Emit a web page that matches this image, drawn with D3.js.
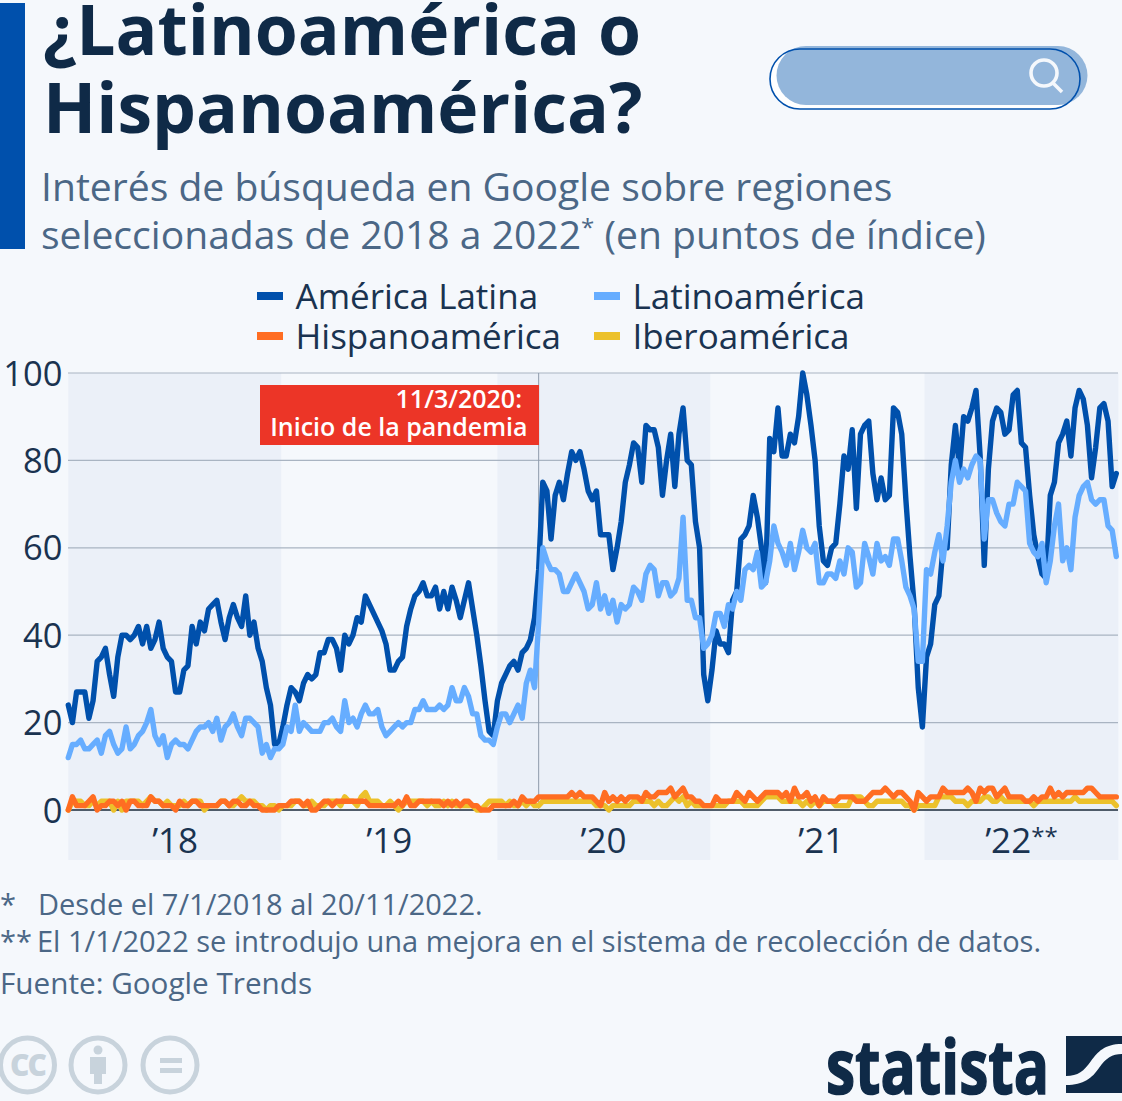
<!DOCTYPE html>
<html><head><meta charset="utf-8">
<script src="https://cdn.jsdelivr.net/npm/d3@7/dist/d3.min.js"></script>
<style>html,body{margin:0;padding:0;background:#f5f8fc;overflow:hidden}svg{display:block}text{font-family:"Open Sans",sans-serif}</style>
</head><body><svg id="c" width="1122" height="1101"></svg>
<script>
const americaLatina=[
24,20,27,27,27,21,25,34,35,37,
31,26,35,40,40,39,40,42,38,42,
37,39,43,37,35,34,27,27,32,33,
42,38,43,41,46,47,48,43,39,44,
47,44,42,49,40,43,37,34,28,24,
15,15,19,24,28,27,25,29,31,30,
31,36,36,39,39,37,32,40,38,40,
44,43,49,47,45,43,41,38,32,32,
34,35,42,46,49,50,52,49,49,51,
46,50,46,51,48,44,48,52,46,40,
33,25,18,17,25,29,31,33,34,32,
36,37,39,44,55,75,73,62,72,75,
71,77,82,80,82,78,73,71,73,63,
63,63,55,60,66,75,79,84,83,75,
88,87,87,83,72,80,86,74,86,92,
80,79,66,60,31,25,32,41,38,38,
36,48,50,62,63,65,72,67,60,52,
85,82,92,81,81,86,84,90,100,95,
88,80,65,57,56,60,61,70,81,78,
87,69,86,88,89,77,71,76,71,72,
92,91,86,71,58,47,28,19,35,38,
47,49,60,60,79,88,78,90,89,92,
96,81,56,78,89,92,91,86,87,95,
96,84,83,72,63,58,54,53,72,75,
84,86,89,81,92,96,94,88,76,83,
92,93,89,74,77];
const latinoamerica=[
12,15,15,16,14,14,15,16,13,17,
18,15,13,14,19,14,15,17,18,20,
23,17,15,17,12,15,16,15,15,14,
16,18,19,19,20,18,21,16,19,20,
22,19,17,21,21,20,19,13,15,12,
14,14,15,19,18,24,18,20,19,18,
18,18,20,20,21,19,18,25,20,21,
19,22,24,22,22,23,19,17,18,19,
20,19,20,20,23,23,25,23,23,23,
24,23,24,28,25,25,28,26,22,22,
17,16,16,15,19,22,22,20,22,24,
21,29,32,28,43,60,57,55,55,54,
50,50,52,54,52,50,46,47,52,46,
49,45,48,43,47,46,47,51,50,48,
54,56,55,49,52,52,49,50,53,67,
48,48,44,44,37,38,40,45,45,42,
47,46,50,48,55,56,55,59,51,52,
57,65,61,59,56,61,55,59,64,60,
59,61,52,52,54,54,53,57,54,60,
59,51,52,61,58,54,61,57,58,56,
62,62,57,51,49,46,34,34,55,54,
59,63,57,65,75,80,75,78,76,79,
81,80,62,71,71,68,66,65,70,70,
75,74,73,61,59,58,61,52,57,65,
70,57,60,55,67,72,74,75,71,70,
71,71,65,64,58];
const hispanoamerica=[
0,3,1,1,1,2,3,0,1,1,
2,2,1,2,0,2,2,1,1,1,
3,2,2,1,1,1,0,2,1,1,
2,2,1,1,1,1,1,2,2,1,
2,2,1,1,2,1,1,0,0,0,
0,1,1,1,2,2,2,1,2,0,
0,1,2,2,1,2,2,2,2,2,
2,2,2,1,1,1,1,1,1,1,
2,1,3,1,1,2,2,2,2,2,
2,1,2,1,2,1,2,2,1,1,
0,0,0,1,1,1,1,1,2,1,
3,2,2,2,3,3,3,3,3,3,
3,3,4,3,4,3,3,3,2,1,
4,2,3,2,3,2,3,3,3,2,
4,3,3,4,4,4,5,3,4,5,
3,3,2,2,1,1,1,3,2,2,
2,2,4,3,2,4,3,2,3,4,
4,4,4,3,4,2,5,3,3,4,
2,3,1,3,2,2,2,3,3,3,
3,2,2,2,3,4,4,4,5,4,
3,4,4,3,2,0,4,3,2,3,
3,3,5,4,4,4,4,4,5,4,
2,5,4,5,5,3,4,5,3,3,
3,3,2,2,3,2,3,3,5,3,
4,3,4,4,4,4,4,5,5,4,
3,3,3,3,3];
const iberoamerica=[
0,2,2,2,1,1,2,1,2,2,
2,0,2,0,2,2,2,2,1,2,
3,2,2,1,2,1,1,1,2,1,
2,2,2,0,1,1,1,2,2,1,
1,2,3,2,2,2,1,1,0,1,
1,0,1,1,1,2,2,1,1,2,
1,1,1,2,2,2,1,3,2,2,
1,3,4,2,2,2,1,1,2,1,
0,1,2,2,2,2,2,1,2,1,
1,2,1,2,1,1,1,1,1,0,
0,1,2,2,2,2,1,2,1,1,
2,1,2,1,1,2,2,2,2,2,
2,2,2,2,2,2,2,2,1,1,
1,0,1,1,1,1,1,2,2,2,
2,2,1,2,1,1,2,3,2,3,
1,2,1,1,1,1,1,1,1,1,
2,2,2,2,1,1,1,1,2,3,
3,3,3,2,2,2,2,2,1,2,
1,2,1,2,2,2,1,1,1,1,
3,3,3,2,1,1,2,2,2,2,
2,2,2,1,1,0,1,1,1,1,
1,3,3,3,3,2,2,2,1,2,
2,2,3,3,2,2,3,2,2,2,
2,2,2,2,1,2,2,2,2,2,
2,2,2,2,3,2,2,2,2,2,
2,2,2,2,1];
const yearLabels=["’18","’19","’20","’21","’22"];
const yearSuffix=["","","","","**"];
const yearEdges=[0,51.6,104,155.6,207.5,254.5];
const yearTickWeeks=[25.9,77.8,129.7,182.5,231];
const yTicks=[0,20,40,60,80,100];
const pandemicWeek=114;
const legendNames=["América Latina","Latinoamérica","Hispanoamérica","Iberoamérica"];
const colors={"América Latina":"#0050ac","Latinoamérica":"#66adff","Hispanoamérica":"#ff6d22","Iberoamérica":"#ecc12b"};
const drawOrder=[["Iberoamérica",iberoamerica],["Hispanoamérica",hispanoamerica],["América Latina",americaLatina],["Latinoamérica",latinoamerica]];

const navy="#0f2a47",muted="#4b6786",ink="#1a3350";
const svg=d3.select("#c");
svg.append("rect").attr("width",1122).attr("height",1101).attr("fill","#f5f8fc");
const x=d3.scaleLinear().domain([0,254]).range([68.3,1116.3]);
const y=d3.scaleLinear().domain([0,100]).range([810,373]);

// header
svg.append("rect").attr("x",0).attr("y",3).attr("width",25).attr("height",246).attr("fill","#0050ac");
const T=(s,px,py,size,fill,weight,anchor)=>svg.append("text").text(s).attr("x",px).attr("y",py).attr("font-size",size).attr("fill",fill).attr("font-weight",weight||400).attr("text-anchor",anchor||"start");
T("¿Latinoamérica o",43,55,69.6,navy,700);
T("Hispanoamérica?",43,133,69.6,navy,700);
T("Interés de búsqueda en Google sobre regiones",41,201,39.1,muted);
const sub=T("seleccionadas de 2018 a 2022",41,249,39.1,muted);
sub.append("tspan").text("*").attr("font-size",24).attr("dy",-13);
sub.append("tspan").text(" (en puntos de índice)").attr("dy",13);

// search pill
svg.append("rect").attr("x",770).attr("y",49).attr("width",310).attr("height",60).attr("rx",30).attr("fill","#fff");
svg.append("rect").attr("x",776.5).attr("y",46).attr("width",311).attr("height",59).attr("rx",29.5).attr("fill","#93b6db");
svg.append("rect").attr("x",770).attr("y",49).attr("width",310).attr("height",60).attr("rx",30).attr("fill","none").attr("stroke","#0050ac").attr("stroke-width",1.6);
svg.append("circle").attr("cx",1044).attr("cy",73).attr("r",13).attr("fill","none").attr("stroke","#f5f8fc").attr("stroke-width",3.6);
svg.append("path").attr("d","M1053 83L1062 92").attr("stroke","#f5f8fc").attr("stroke-width",3.6);

// legend
const lx=[257,594],ly=[296,336];
legendNames.forEach((n,i)=>{
  const c=i%2,r=Math.floor(i/2);
  svg.append("rect").attr("x",lx[c]).attr("y",ly[r]-4).attr("width",26).attr("height",8).attr("fill",colors[n]);
  T(n,lx[c]+38.5,ly[r]+13,35,ink);
});

// bands
yearLabels.forEach((l,i)=>{
  if(i%2==0) svg.append("rect").attr("x",x(yearEdges[i])).attr("y",373).attr("width",x(yearEdges[i+1])-x(yearEdges[i])).attr("height",487).attr("fill","#ebf0f8");
});
// grid
yTicks.forEach(t=>{
  svg.append("line").attr("x1",68).attr("x2",1118).attr("y1",y(t)).attr("y2",y(t)).attr("stroke",t==0?"#1a2a3a":"#a9b4c2").attr("stroke-width",t==0?1.4:1.2);
  T(t,62.5,y(t)+12.5,34.5,ink,400,"end");
});
// tick labels
yearLabels.forEach((l,i)=>{
  const t=T(l,x(yearTickWeeks[i]),853,35,ink,400,"middle");
  if(yearSuffix[i]) t.append("tspan").text(yearSuffix[i]).attr("font-size",24).attr("dy",-8);
});
// pandemic line
svg.append("line").attr("x1",x(pandemicWeek)).attr("x2",x(pandemicWeek)).attr("y1",373).attr("y2",810).attr("stroke","#8f9bab").attr("stroke-width",1);

// series
const line=d3.line().x((d,i)=>x(i)).y(d=>y(d)).curve(d3.curveLinear);
drawOrder.forEach(([n,v])=>{
  svg.append("path").attr("d",line(v)).attr("fill","none").attr("stroke",colors[n]).attr("stroke-width",5.4).attr("stroke-linejoin","round").attr("stroke-linecap","round");
});

// annotation
svg.append("rect").attr("x",260).attr("y",385).attr("width",279).attr("height",60).attr("fill","#ec3527");
T("11/3/2020:",522,408,25,"#fff",600,"end");
T("Inicio de la pandemia",527.5,436,25,"#fff",600,"end");

// footnotes
T("*",0,915,29,muted);
T("Desde el 7/1/2018 al 20/11/2022.",38,915,29,muted);
T("**",0,952,29,muted);
T("El 1/1/2022 se introdujo una mejora en el sistema de recolección de datos.",37,952,29,muted);
T("Fuente: Google Trends",0,994,29.7,muted);

// cc icons
const cg="#c8d3dc";
[27.5,98,170].forEach(cx=>svg.append("circle").attr("cx",cx).attr("cy",1065).attr("r",27).attr("fill","none").attr("stroke",cg).attr("stroke-width",5));
T("CC",27.5,1076,30,cg,800,"middle").attr("letter-spacing",-2);
svg.append("circle").attr("cx",98).attr("cy",1050).attr("r",4.5).attr("fill",cg);
svg.append("path").attr("d","M90 1057H106V1074H102V1084H94V1074H90Z").attr("fill",cg);
svg.append("rect").attr("x",160).attr("y",1058).attr("width",22).attr("height",5).attr("fill",cg);
svg.append("rect").attr("x",160).attr("y",1068).attr("width",22).attr("height",5).attr("fill",cg);

// statista logo
T("statista",826,1093.5,76,navy,700).attr("font-family","'Liberation Sans Narrow','Liberation Sans',sans-serif").attr("textLength",223).attr("lengthAdjust","spacingAndGlyphs").attr("stroke",navy).attr("stroke-width",1.6);
svg.append("path").attr("d","M1066 1036H1122V1044C1104 1044 1098 1052 1091 1061C1084 1071 1078 1076 1066 1076Z").attr("fill",navy);
svg.append("path").attr("d","M1122 1054V1093H1066V1085C1084 1085 1092 1078 1099 1068C1106 1058 1112 1054 1122 1054Z").attr("fill",navy);
</script></body></html>
